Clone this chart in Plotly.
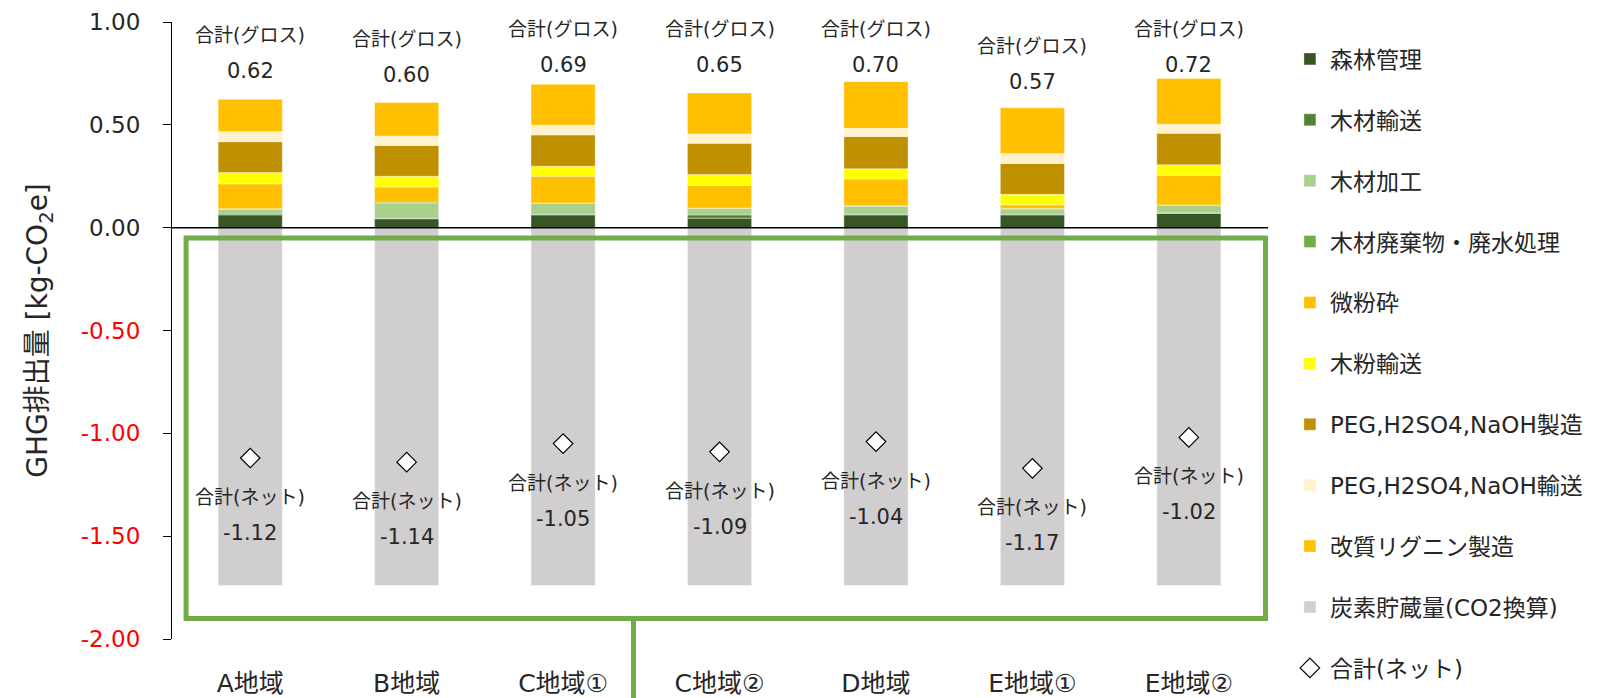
import plotly.graph_objects as go

categories = ["A地域", "B地域", "C地域①", "C地域②", "D地域", "E地域①", "E地域②"]

forest_mgmt = [0.062, 0.043, 0.062, 0.046, 0.062, 0.062, 0.069]
wood_transport = [0.004, 0.003, 0.003, 0.016, 0.003, 0.003, 0.003]
wood_processing = [0.023, 0.072, 0.053, 0.031, 0.039, 0.026, 0.036]
wood_waste = [0.003, 0.006, 0.002, 0.002, 0.002, 0.002, 0.002]
fine_grinding = [0.121, 0.074, 0.130, 0.111, 0.131, 0.018, 0.145]
powder_transport = [0.055, 0.052, 0.049, 0.053, 0.049, 0.051, 0.051]
peg_production = [0.150, 0.150, 0.152, 0.151, 0.157, 0.150, 0.153]
peg_transport = [0.049, 0.046, 0.047, 0.046, 0.040, 0.049, 0.044]
lignin_production = [0.157, 0.163, 0.199, 0.199, 0.227, 0.222, 0.222]
carbon_storage = [-1.74, -1.74, -1.74, -1.74, -1.74, -1.74, -1.74]

gross_total = [0.62, 0.60, 0.69, 0.65, 0.70, 0.57, 0.72]
net_total = [-1.12, -1.14, -1.05, -1.09, -1.04, -1.17, -1.02]

y_tick_vals = [1.0, 0.5, 0.0, -0.5, -1.0, -1.5, -2.0]
y_tick_text = ["1.00", "0.50", "0.00", "-0.50", "-1.00", "-1.50", "-2.00"]

series = [
    ("森林管理", forest_mgmt, "#375623"),
    ("木材輸送", wood_transport, "#548235"),
    ("木材加工", wood_processing, "#A9D18E"),
    ("木材廃棄物・廃水処理", wood_waste, "#70AD47"),
    ("微粉砕", fine_grinding, "#FFC000"),
    ("木粉輸送", powder_transport, "#FFFF00"),
    ("PEG,H2SO4,NaOH製造", peg_production, "#BF9000"),
    ("PEG,H2SO4,NaOH輸送", peg_transport, "#FFF2CC"),
    ("改質リグニン製造", lignin_production, "#FFC000"),
    ("炭素貯蔵量(CO2換算)", carbon_storage, "#D0CECE"),
]

FONT = "DejaVu Sans, Noto Sans CJK JP, sans-serif"
TXT = "#262626"

fig = go.Figure()
for i, (name, vals, col) in enumerate(series):
    fig.add_trace(go.Bar(
        x=categories, y=vals, name=name,
        marker=dict(color=col, line=dict(width=0.6, color="rgba(255,255,255,0.6)")),
        legendgroup=f"g{i}",
    ))

fig.add_trace(go.Scatter(
    x=categories, y=net_total, mode="markers", name="合計(ネット)",
    marker=dict(symbol="diamond", size=15, color="white", line=dict(color="black", width=1.2)),
    legendgroup="gnet",
))

# gross labels
for c, g in zip(categories, gross_total):
    fig.add_annotation(x=c, y=min(g + 0.14, 0.79), text=f"{g:.2f}", showarrow=False,
                       font=dict(size=21, color=TXT, family=FONT), yanchor="middle")
    fig.add_annotation(x=c, y=min(g + 0.14, 0.79), text="合計(グロス)", showarrow=False,
                       font=dict(size=19, color=TXT, family=FONT), yanchor="middle", yshift=36)

# net labels
for c, n in zip(categories, net_total):
    fig.add_annotation(x=c, y=n, text="合計(ネット)", showarrow=False,
                       font=dict(size=19, color=TXT, family=FONT), yanchor="middle", yshift=-39)
    fig.add_annotation(x=c, y=n, text=f"{n:.2f}", showarrow=False,
                       font=dict(size=21, color=TXT, family=FONT), yanchor="middle", yshift=-75)

# zero line
fig.add_shape(type="line", xref="paper", x0=0, x1=1, yref="y", y0=0, y1=0,
              line=dict(color="black", width=1.5), layer="above")
# green box
fig.add_shape(type="rect", xref="x", yref="y", x0=-0.41, x1=6.49, y0=-1.90, y1=-0.05,
              line=dict(color="#70AD47", width=5), layer="above")
fig.add_shape(type="line", xref="x", yref="paper", x0=2.45, x1=2.45, y0=0.0333, y1=-0.2,
              line=dict(color="#70AD47", width=5), layer="above")

tick_text = [t if v >= 0 else f'<span style="color:#FF0000">{t}</span>' for v, t in zip(y_tick_vals, y_tick_text)]

fig.update_layout(
    width=1604, height=698,
    margin=dict(l=172, r=336, t=22, b=59, autoexpand=False),
    paper_bgcolor="white", plot_bgcolor="white",
    barmode="relative", bargap=0.59,
    font=dict(family=FONT, color=TXT),
    showlegend=True,
    legend=dict(x=1.02, xanchor="left", y=0.975, yanchor="top",
                font=dict(size=23, color=TXT, family=FONT),
                traceorder="grouped", tracegroupgap=28, itemwidth=30, maxheight=1000),
    xaxis=dict(showline=False, ticks="", tickfont=dict(size=25, color=TXT, family=FONT),
               ticklabelstandoff=27, showgrid=False, zeroline=False, automargin=False),
    yaxis=dict(range=[-2.0, 1.0], tickvals=y_tick_vals, ticktext=tick_text,
               showline=True, linecolor="black", linewidth=1.2, ticks="outside",
               ticklen=8, tickcolor="black", showgrid=False, zeroline=False, automargin=False,
               tickfont=dict(size=23, color=TXT, family=FONT), ticklabelstandoff=18,
               title=dict(text="GHG排出量 [kg-CO<sub>2</sub>e]", font=dict(size=28, color=TXT, family=FONT), standoff=24)),
)

fig.write_html("out.html")
